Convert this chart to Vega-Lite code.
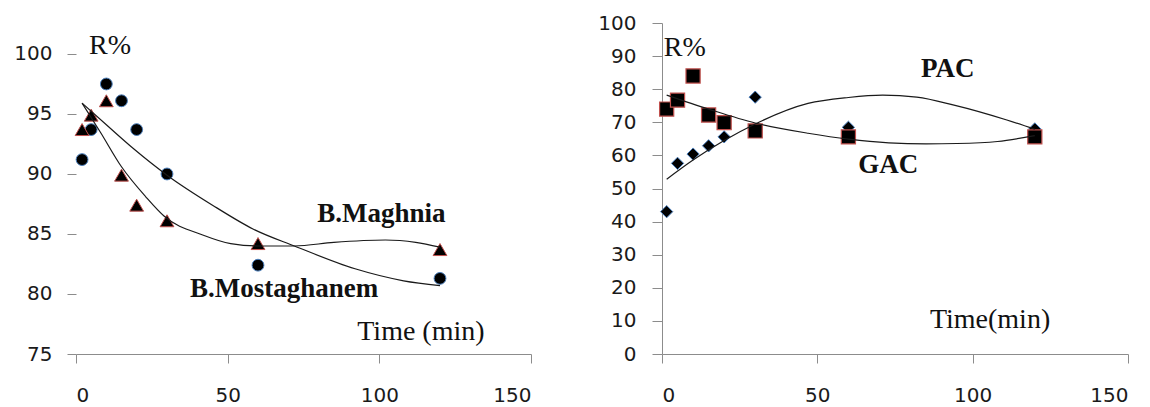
{
  "$schema": "https://vega.github.io/schema/vega-lite/v6.json",
  "padding": {"left": 13, "top": 13, "right": 4, "bottom": 1},
  "background": "white",
  "bounds": "flush",
  "spacing": 131,
  "config": {
    "view": {"stroke": null},
    "axis": {
      "grid": false,
      "title": null,
      "domainColor": "#8c8c8c",
      "tickColor": "#8c8c8c",
      "labelFont": "DejaVu Sans",
      "labelFontSize": 20,
      "labelColor": "#1a1a1a"
    },
    "point": {"filled": true, "opacity": 1}
  },
  "datasets": {
    "points": [
      {"panel": "L", "series": "B.Mostaghanem", "t": 2, "r": 91.2},
      {"panel": "L", "series": "B.Mostaghanem", "t": 5, "r": 93.7},
      {"panel": "L", "series": "B.Mostaghanem", "t": 10, "r": 97.5},
      {"panel": "L", "series": "B.Mostaghanem", "t": 15, "r": 96.1},
      {"panel": "L", "series": "B.Mostaghanem", "t": 20, "r": 93.7},
      {"panel": "L", "series": "B.Mostaghanem", "t": 30, "r": 90.0},
      {"panel": "L", "series": "B.Mostaghanem", "t": 60, "r": 82.4},
      {"panel": "L", "series": "B.Mostaghanem", "t": 120, "r": 81.3},
      {"panel": "L", "series": "B.Maghnia", "t": 2, "r": 93.7},
      {"panel": "L", "series": "B.Maghnia", "t": 5, "r": 94.9},
      {"panel": "L", "series": "B.Maghnia", "t": 10, "r": 96.1},
      {"panel": "L", "series": "B.Maghnia", "t": 15, "r": 89.9},
      {"panel": "L", "series": "B.Maghnia", "t": 20, "r": 87.4},
      {"panel": "L", "series": "B.Maghnia", "t": 30, "r": 86.1},
      {"panel": "L", "series": "B.Maghnia", "t": 60, "r": 84.2},
      {"panel": "L", "series": "B.Maghnia", "t": 120, "r": 83.7},
      {"panel": "R", "series": "PAC", "t": 1.5, "r": 43.0},
      {"panel": "R", "series": "PAC", "t": 5, "r": 57.6},
      {"panel": "R", "series": "PAC", "t": 10, "r": 60.4},
      {"panel": "R", "series": "PAC", "t": 15, "r": 62.9},
      {"panel": "R", "series": "PAC", "t": 20, "r": 65.6},
      {"panel": "R", "series": "PAC", "t": 30, "r": 77.6},
      {"panel": "R", "series": "PAC", "t": 60, "r": 68.5},
      {"panel": "R", "series": "PAC", "t": 120, "r": 68.0},
      {"panel": "R", "series": "GAC", "t": 1.5, "r": 74.0},
      {"panel": "R", "series": "GAC", "t": 5, "r": 76.7},
      {"panel": "R", "series": "GAC", "t": 10, "r": 84.0},
      {"panel": "R", "series": "GAC", "t": 15, "r": 72.2},
      {"panel": "R", "series": "GAC", "t": 20, "r": 69.9},
      {"panel": "R", "series": "GAC", "t": 30, "r": 67.4},
      {"panel": "R", "series": "GAC", "t": 60, "r": 65.6},
      {"panel": "R", "series": "GAC", "t": 120, "r": 65.6}
    ],
    "trend": [
      {"series": "B.Maghnia", "t": 2, "r": 95.9},
      {"series": "B.Maghnia", "t": 8, "r": 93.5},
      {"series": "B.Maghnia", "t": 15, "r": 90.6},
      {"series": "B.Maghnia", "t": 23, "r": 88.1},
      {"series": "B.Maghnia", "t": 29, "r": 86.5},
      {"series": "B.Maghnia", "t": 42, "r": 84.9},
      {"series": "B.Maghnia", "t": 51, "r": 84.2},
      {"series": "B.Maghnia", "t": 60, "r": 84.0},
      {"series": "B.Maghnia", "t": 72, "r": 84.0},
      {"series": "B.Maghnia", "t": 85, "r": 84.3},
      {"series": "B.Maghnia", "t": 102, "r": 84.5},
      {"series": "B.Maghnia", "t": 112, "r": 84.3},
      {"series": "B.Maghnia", "t": 120, "r": 83.9},
      {"series": "B.Mostaghanem", "t": 2, "r": 95.9},
      {"series": "B.Mostaghanem", "t": 10, "r": 94.1},
      {"series": "B.Mostaghanem", "t": 19, "r": 92.1},
      {"series": "B.Mostaghanem", "t": 30, "r": 89.9},
      {"series": "B.Mostaghanem", "t": 45, "r": 87.4},
      {"series": "B.Mostaghanem", "t": 58.5, "r": 85.4},
      {"series": "B.Mostaghanem", "t": 72, "r": 84.0},
      {"series": "B.Mostaghanem", "t": 92, "r": 82.1},
      {"series": "B.Mostaghanem", "t": 108, "r": 81.1},
      {"series": "B.Mostaghanem", "t": 120, "r": 80.7},
      {"series": "GAC", "t": 1.5, "r": 78.2},
      {"series": "GAC", "t": 15, "r": 74.0},
      {"series": "GAC", "t": 30, "r": 69.8},
      {"series": "GAC", "t": 47, "r": 66.7},
      {"series": "GAC", "t": 60, "r": 64.9},
      {"series": "GAC", "t": 73, "r": 63.8},
      {"series": "GAC", "t": 85, "r": 63.5},
      {"series": "GAC", "t": 95, "r": 63.6},
      {"series": "GAC", "t": 108, "r": 64.2},
      {"series": "GAC", "t": 120, "r": 66.0},
      {"series": "PAC", "t": 1.5, "r": 52.8},
      {"series": "PAC", "t": 10, "r": 58.6},
      {"series": "PAC", "t": 20, "r": 64.5},
      {"series": "PAC", "t": 30, "r": 69.5},
      {"series": "PAC", "t": 47, "r": 75.7},
      {"series": "PAC", "t": 60, "r": 77.5},
      {"series": "PAC", "t": 71, "r": 78.2},
      {"series": "PAC", "t": 82, "r": 77.6},
      {"series": "PAC", "t": 94, "r": 75.2},
      {"series": "PAC", "t": 111, "r": 70.7},
      {"series": "PAC", "t": 120, "r": 67.9}
    ]
  },
  "hconcat": [
    {
      "width": 455,
      "height": 331,
      "encoding": {
        "x": {"type": "quantitative", "scale": {"domain": [0, 150], "nice": false}, "axis": {"values": [0, 50, 100, 150], "tickSize": 9, "labelPadding": 22}},
        "y": {"type": "quantitative", "scale": {"domain": [75, 102.58], "nice": false, "zero": false}, "axis": {"values": [75, 80, 85, 90, 95, 100], "domain": false, "tickSize": 9, "labelPadding": 15}}
      },
      "layer": [
        {
          "mark": {"type": "rule", "color": "#8c8c8c", "strokeWidth": 1},
          "encoding": {"x": {"datum": 0}, "y": {"datum": 75}, "y2": {"datum": 101.75}}
        },
        {
          "mark": {"type": "rule", "color": "#333333", "strokeWidth": 1.5},
          "encoding": {"x": {"datum": 150}, "y": {"datum": 75}, "y2": {"datum": 101.75}}
        },
        {
          "data": {"name": "points"},
          "transform": [{"filter": "datum.series === 'B.Mostaghanem'"}],
          "mark": {"type": "point", "shape": "circle", "size": 140, "fill": "black", "stroke": "#4a7ebb", "strokeWidth": 1},
          "encoding": {"x": {"field": "t"}, "y": {"field": "r"}}
        },
        {
          "data": {"name": "points"},
          "transform": [{"filter": "datum.series === 'B.Maghnia'"}],
          "mark": {"type": "point", "shape": "triangle-up", "size": 190, "fill": "black", "stroke": "#c0504d", "strokeWidth": 1},
          "encoding": {"x": {"field": "t"}, "y": {"field": "r"}}
        },
        {
          "data": {"name": "trend"},
          "transform": [{"filter": "datum.series === 'B.Maghnia' || datum.series === 'B.Mostaghanem'"}],
          "mark": {"type": "line", "color": "#1a1a1a", "strokeWidth": 1.2, "interpolate": "monotone"},
          "encoding": {"x": {"field": "t"}, "y": {"field": "r"}, "detail": {"field": "series"}}
        },
        {
          "data": {"values": [
            {"t": 100.7, "r": 86.7, "label": "B.Maghnia"},
            {"t": 68.6, "r": 80.4, "label": "B.Mostaghanem"}
          ]},
          "mark": {"type": "text", "font": "Liberation Serif", "fontWeight": "bold", "fontSize": 27, "color": "#111111", "align": "center", "baseline": "middle"},
          "encoding": {"x": {"field": "t"}, "y": {"field": "r"}, "text": {"field": "label"}}
        },
        {
          "data": {"values": [
            {"t": 4.3, "r": 100.67, "label": "R%", "a": "left"},
            {"t": 113.7, "r": 76.86, "label": "Time (min)", "a": "center"}
          ]},
          "mark": {"type": "text", "font": "Liberation Serif", "fontSize": 28, "color": "#111111", "baseline": "middle", "align": {"expr": "datum.a"}},
          "encoding": {"x": {"field": "t"}, "y": {"field": "r"}, "text": {"field": "label"}}
        }
      ]
    },
    {
      "width": 466,
      "height": 331,
      "encoding": {
        "x": {"type": "quantitative", "scale": {"domain": [0, 150], "nice": false}, "axis": {"values": [0, 50, 100, 150], "tickSize": 9, "labelPadding": 22}},
        "y": {"type": "quantitative", "scale": {"domain": [0, 100], "nice": false}, "axis": {"values": [0, 10, 20, 30, 40, 50, 60, 70, 80, 90, 100], "tickSize": 10, "labelPadding": 16}}
      },
      "layer": [
        {
          "mark": {"type": "rule", "color": "#333333", "strokeWidth": 1.5},
          "encoding": {"x": {"datum": 0}, "x2": {"datum": 150}, "y": {"datum": 100}}
        },
        {
          "mark": {"type": "rule", "color": "#333333", "strokeWidth": 1.5},
          "encoding": {"x": {"datum": 150}, "y": {"datum": 0}, "y2": {"datum": 100}}
        },
        {
          "data": {"name": "points"},
          "transform": [{"filter": "datum.series === 'PAC'"}],
          "mark": {"type": "point", "shape": "diamond", "size": 150, "fill": "black", "stroke": "#4a7ebb", "strokeWidth": 1},
          "encoding": {"x": {"field": "t"}, "y": {"field": "r"}}
        },
        {
          "data": {"name": "points"},
          "transform": [{"filter": "datum.series === 'GAC'"}],
          "mark": {"type": "point", "shape": "square", "size": 200, "fill": "black", "stroke": "#c0504d", "strokeWidth": 1.2},
          "encoding": {"x": {"field": "t"}, "y": {"field": "r"}}
        },
        {
          "data": {"name": "trend"},
          "transform": [{"filter": "datum.series === 'PAC' || datum.series === 'GAC'"}],
          "mark": {"type": "line", "color": "#1a1a1a", "strokeWidth": 1.2, "interpolate": "monotone"},
          "encoding": {"x": {"field": "t"}, "y": {"field": "r"}, "detail": {"field": "series"}}
        },
        {
          "data": {"values": [
            {"t": 92, "r": 86.0, "label": "PAC"},
            {"t": 72.8, "r": 57.1, "label": "GAC"}
          ]},
          "mark": {"type": "text", "font": "Liberation Serif", "fontWeight": "bold", "fontSize": 27, "color": "#111111", "align": "center", "baseline": "middle"},
          "encoding": {"x": {"field": "t"}, "y": {"field": "r"}, "text": {"field": "label"}}
        },
        {
          "data": {"values": [
            {"t": 0.6, "r": 92.5, "label": "R%", "a": "left"},
            {"t": 105.6, "r": 10.3, "label": "Time(min)", "a": "center"}
          ]},
          "mark": {"type": "text", "font": "Liberation Serif", "fontSize": 28, "color": "#111111", "baseline": "middle", "align": {"expr": "datum.a"}},
          "encoding": {"x": {"field": "t"}, "y": {"field": "r"}, "text": {"field": "label"}}
        }
      ]
    }
  ]
}
